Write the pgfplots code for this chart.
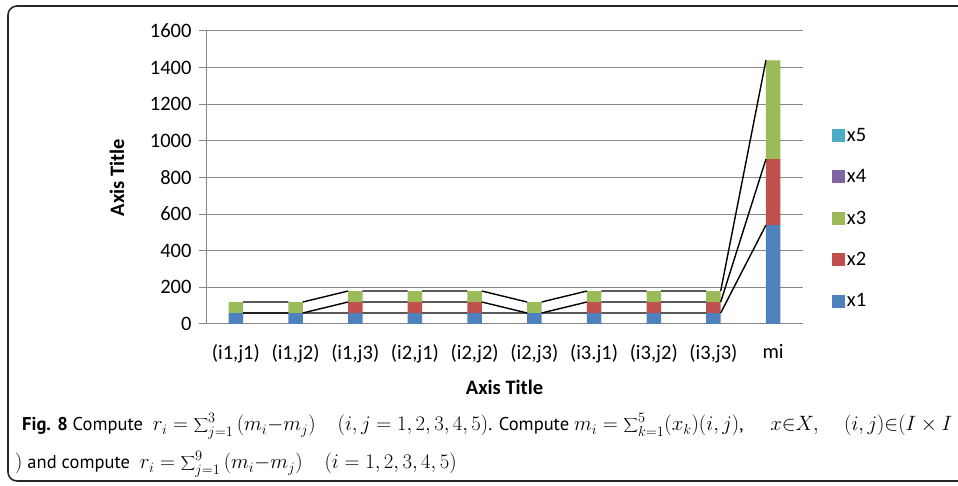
\documentclass[border=0pt]{standalone}
\usepackage{fontspec}
\setmainfont{Carlito}
\newfontfamily\capfont{PT Sans}
\usepackage{pgfplots}
\pgfplotsset{compat=1.18}
\definecolor{c1}{HTML}{4F81BD}
\definecolor{c2}{HTML}{C0504D}
\definecolor{c3}{HTML}{9BBB59}
\definecolor{c4}{HTML}{8064A2}
\definecolor{c5}{HTML}{4BACC6}
\definecolor{gridgray}{HTML}{878787}
\pgfplotsset{
  geom/.style={
    at={(206pt,162pt)}, anchor=south west,
    width=597pt, height=293pt, scale only axis,
    xmin=-0.5, xmax=9.5, ymin=0, ymax=1600,
  }
}
\newcommand{\bsum}{\displaystyle\sum\nolimits}
\newcommand{\M}[1]{{\fontsize{22}{24}\selectfont$#1$}}
\begin{document}
\begin{tikzpicture}
\useasboundingbox (0pt,0pt) rectangle (958pt,486pt);
\draw[line width=1.6pt, black!85, rounded corners=9pt] (962pt,480pt) -- (8pt,480pt) -- (8pt,5pt) -- (962pt,5pt);
\begin{axis}[geom,
  ybar stacked, bar width=14.5pt,
  /pgf/number format/assume math mode=true,
  /pgf/number format/1000 sep={},
  tick label style={font=\fontsize{20.5}{24}\selectfont},
  ytick={0,200,...,1600},
  xtick={0,...,9},
  xticklabels={(i1{,}j1),(i1{,}j2),(i1{,}j3),(i2{,}j1),(i2{,}j2),(i2{,}j3),(i3.j1),(i3{,}j2),(i3{,}j3),mi},
  xticklabel style={yshift=-10pt},
  yticklabel style={xshift=-4pt},
  ymajorgrids, grid style={gridgray, line width=1pt},
  axis x line*=bottom, axis y line*=left,
  axis line style={-, gridgray, line width=1pt},
  tick align=outside, major tick length=7pt,
  ytick style={gridgray, line width=1pt},
  xtick style={draw=none},
  xlabel={\textbf{Axis Title}}, ylabel={\textbf{Axis Title}},
  label style={font=\fontsize{20.5}{24}\selectfont},
  xlabel style={at={(axis description cs:0.5,-0.215)}, anchor=center},
  ylabel style={at={(axis description cs:-0.149,0.5)}, anchor=center},
  legend style={draw=none, fill=none, at={(rel axis cs:1.043,0.683)}, anchor=north west,
    font=\fontsize{20.5}{24}\selectfont, row sep=22.7pt},
  legend cell align=left, reverse legend,
  legend image code/.code={\fill[#1] (-5pt,-6.5pt) rectangle (8pt,6.5pt);},
]
\addplot[fill=c1, draw=none] coordinates {(0,60) (1,60) (2,60) (3,60) (4,60) (5,60) (6,60) (7,60) (8,60) (9,540)};
\addplot[fill=c2, draw=none] coordinates {(0,0) (1,0) (2,60) (3,60) (4,60) (5,0) (6,60) (7,60) (8,60) (9,360)};
\addplot[fill=c3, draw=none] coordinates {(0,60) (1,60) (2,60) (3,60) (4,60) (5,60) (6,60) (7,60) (8,60) (9,540)};
\addplot[fill=c4, draw=none] coordinates {(0,0) (1,0) (2,0) (3,0) (4,0) (5,0) (6,0) (7,0) (8,0) (9,0)};
\addplot[fill=c5, draw=none] coordinates {(0,0) (1,0) (2,0) (3,0) (4,0) (5,0) (6,0) (7,0) (8,0) (9,0)};
\legend{x1,x2,x3,x4,x5}
\end{axis}
\begin{axis}[geom, hide axis, unbounded coords=jump]
\addplot[black, line width=1.4pt] coordinates {
(0.121,60) (0.879,60) (nan,nan) (1.121,60) (1.879,60) (nan,nan) (2.121,60) (2.879,60) (nan,nan)
(3.121,60) (3.879,60) (nan,nan) (4.121,60) (4.879,60) (nan,nan) (5.121,60) (5.879,60) (nan,nan)
(6.121,60) (6.879,60) (nan,nan) (7.121,60) (7.879,60) (nan,nan) (8.121,60) (8.879,540)};
\addplot[black, line width=1.4pt] coordinates {
(0.121,60) (0.879,60) (nan,nan) (1.121,60) (1.879,120) (nan,nan) (2.121,120) (2.879,120) (nan,nan)
(3.121,120) (3.879,120) (nan,nan) (4.121,120) (4.879,60) (nan,nan) (5.121,60) (5.879,120) (nan,nan)
(6.121,120) (6.879,120) (nan,nan) (7.121,120) (7.879,120) (nan,nan) (8.121,120) (8.879,900)};
\addplot[black, line width=1.4pt] coordinates {
(0.121,120) (0.879,120) (nan,nan) (1.121,120) (1.879,180) (nan,nan) (2.121,180) (2.879,180) (nan,nan)
(3.121,180) (3.879,180) (nan,nan) (4.121,180) (4.879,120) (nan,nan) (5.121,120) (5.879,180) (nan,nan)
(6.121,180) (6.879,180) (nan,nan) (7.121,180) (7.879,180) (nan,nan) (8.121,180) (8.879,1440)};
\end{axis}
\node[anchor=base west, inner sep=0pt, font=\capfont\fontsize{18.5}{22}\selectfont] at (22pt,55pt)
 {{\bfseries Fig. 8} Compute \ \M{r_i=\bsum_{j=1}^{3}\,(m_i{-}m_j)\quad (i,j=1,2,3,4,5)}. Compute \M{m_i=\bsum_{k=1}^{5}(x_k)(i,j)}, \M{\quad x{\in}X,\quad (i,j){\in}(I\times I}};
\node[anchor=base west, inner sep=0pt, font=\capfont\fontsize{18.5}{22}\selectfont] at (15pt,17pt)
 {\M{)} and compute \ \M{r_i=\bsum_{j=1}^{9}\,(m_i{-}m_j)\quad (i=1,2,3,4,5)}};
\end{tikzpicture}
\end{document}
